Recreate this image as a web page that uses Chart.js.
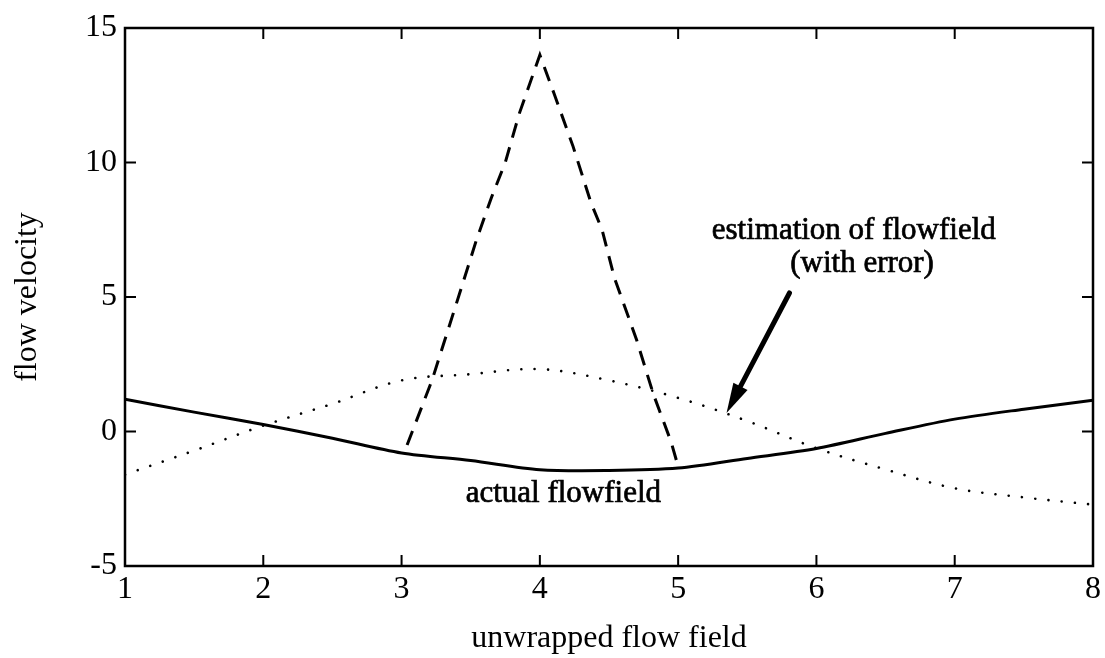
<!DOCTYPE html>
<html>
<head>
<meta charset="utf-8">
<script src="https://cdn.jsdelivr.net/npm/chart.js@4/dist/chart.umd.min.js"></script>
<style>
  html, body { margin: 0; padding: 0; background: #fff; }
  #wrap { width: 1105px; height: 658px; position: relative; }
</style>
</head>
<body>
<div id="wrap"><canvas id="chart"></canvas></div>
<script>
// Axis ticks
const xTicks = [1, 2, 3, 4, 5, 6, 7, 8];
const yTicks = [-5, 0, 5, 10, 15];

// Actual flowfield (solid)
const actualX = [1, 1.5, 2, 2.5, 3, 3.5, 4, 4.5, 5, 5.5, 6, 6.5, 7, 7.5, 8];
const actualY = [1.2, 0.72, 0.26, -0.25, -0.8, -1.08, -1.42, -1.45, -1.36, -1.0, -0.63, -0.07, 0.46, 0.83, 1.16];

// Estimated flowfield (dotted)
const estimateX = [1, 1.5, 2, 2.5, 3, 3.5, 4, 4.5, 5, 5.5, 6, 6.5, 7, 7.5, 8];
const estimateY = [-1.6, -0.71, 0.22, 1.03, 1.9, 2.13, 2.32, 1.9, 1.25, 0.39, -0.62, -1.41, -2.11, -2.45, -2.72];

// Estimate with unwrapping error (dashed)
const errorX = [3.04, 3.22, 3.43, 3.54, 3.65, 3.75, 3.85, 4.0, 4.1, 4.24, 4.37, 4.45, 4.54, 4.7, 4.82, 4.95, 5.0];
const errorY = [-0.5, 1.9, 5.3, 7.1, 8.7, 10.0, 11.8, 14.0, 12.6, 10.6, 8.5, 7.5, 5.7, 3.4, 1.4, -0.4, -1.3];

// Annotations (data coordinates)
const labelActual = { text: 'actual flowfield', x: 4.17, y: -2.62 };
const labelEstimate = [
  { text: 'estimation of flowfield', x: 6.27, y: 7.16 },
  { text: '(with error)', x: 6.33, y: 5.93 }
];
const arrowFrom = { x: 5.805, y: 5.15 };
const arrowTo = { x: 5.35, y: 0.69 };

const FONT = "'Liberation Serif', 'Times New Roman', serif";
const pts = (xs, ys) => xs.map((v, i) => ({ x: v, y: ys[i] }));

// Boxed frame with inward tick marks on all four sides
const framePlugin = {
  id: 'frame',
  afterDatasetsDraw(chart) {
    const { ctx, chartArea: a, scales: { x, y } } = chart;
    ctx.save();
    ctx.strokeStyle = '#000';
    ctx.lineWidth = 2.5;
    ctx.strokeRect(a.left, a.top, a.right - a.left, a.bottom - a.top);
    ctx.lineWidth = 2;
    const L = 11;
    ctx.beginPath();
    xTicks.forEach(v => {
      const px = x.getPixelForValue(v);
      ctx.moveTo(px, a.bottom); ctx.lineTo(px, a.bottom - L);
      ctx.moveTo(px, a.top); ctx.lineTo(px, a.top + L);
    });
    yTicks.forEach(v => {
      const py = y.getPixelForValue(v);
      ctx.moveTo(a.left, py); ctx.lineTo(a.left + L, py);
      ctx.moveTo(a.right, py); ctx.lineTo(a.right - L, py);
    });
    ctx.stroke();
    ctx.restore();
  }
};

// Text labels and the pointer arrow
const notePlugin = {
  id: 'notes',
  afterDatasetsDraw(chart) {
    const { ctx, scales: { x, y } } = chart;
    ctx.save();
    ctx.fillStyle = '#000';
    ctx.strokeStyle = '#000';
    ctx.lineWidth = 0.7;
    ctx.font = '31px ' + FONT;
    ctx.textAlign = 'center';
    ctx.textBaseline = 'alphabetic';
    [labelActual, ...labelEstimate].forEach(l => {
      const px = x.getPixelForValue(l.x), py = y.getPixelForValue(l.y);
      ctx.fillText(l.text, px, py);
      ctx.strokeText(l.text, px, py);
    });
    const x0 = x.getPixelForValue(arrowFrom.x), y0 = y.getPixelForValue(arrowFrom.y);
    const x1 = x.getPixelForValue(arrowTo.x), y1 = y.getPixelForValue(arrowTo.y);
    const ang = Math.atan2(y1 - y0, x1 - x0);
    const headLen = 30, headHalf = 8;
    const bx = x1 - headLen * Math.cos(ang), by = y1 - headLen * Math.sin(ang);
    ctx.lineWidth = 5;
    ctx.lineCap = 'round';
    ctx.beginPath(); ctx.moveTo(x0, y0); ctx.lineTo(bx, by); ctx.stroke();
    ctx.beginPath();
    ctx.moveTo(x1, y1);
    ctx.lineTo(bx + headHalf * Math.sin(ang), by - headHalf * Math.cos(ang));
    ctx.lineTo(bx - headHalf * Math.sin(ang), by + headHalf * Math.cos(ang));
    ctx.closePath();
    ctx.fill();
    ctx.restore();
  }
};

new Chart(document.getElementById('chart'), {
  type: 'line',
  data: {
    datasets: [
      {
        label: 'actual flowfield',
        data: pts(actualX, actualY),
        borderColor: '#000', borderWidth: 3, tension: 0.3,
        pointRadius: 0, fill: false
      },
      {
        label: 'estimation of flowfield',
        data: pts(estimateX, estimateY),
        borderColor: '#000', borderWidth: 2.6, tension: 0.35,
        borderDash: [0.01, 13.3], borderCapStyle: 'round',
        pointRadius: 0, fill: false
      },
      {
        label: 'estimation with error',
        data: pts(errorX, errorY),
        borderColor: '#000', borderWidth: 3, tension: 0,
        borderDash: [15, 10],
        pointRadius: 0, fill: false
      }
    ]
  },
  options: {
    responsive: true,
    maintainAspectRatio: false,
    animation: false,
    events: [],
    font: { family: FONT },
    layout: { padding: { top: 28, right: 11, left: 0, bottom: 0 } },
    plugins: { legend: { display: false }, tooltip: { enabled: false } },
    scales: {
      x: {
        type: 'linear', min: 1, max: 8,
        afterFit(s) { s.height = 92; },
        afterBuildTicks(s) { s.ticks = xTicks.map(v => ({ value: v })); },
        grid: { display: false, drawTicks: false },
        border: { display: false },
        ticks: { color: '#000', font: { family: FONT, size: 32 }, padding: 4, maxRotation: 0, autoSkip: false },
        title: { display: true, text: 'unwrapped flow field', color: '#000', font: { family: FONT, size: 32 }, padding: { top: 0, bottom: 0 } }
      },
      y: {
        type: 'linear', min: -5, max: 15,
        afterFit(s) { s.width = 125; },
        afterBuildTicks(s) { s.ticks = yTicks.map(v => ({ value: v })); },
        grid: { display: false, drawTicks: false },
        border: { display: false },
        ticks: { color: '#000', font: { family: FONT, size: 32 }, padding: 8, autoSkip: false },
        title: { display: true, text: 'flow velocity', color: '#000', font: { family: FONT, size: 32 }, padding: { top: 8, bottom: 0 } }
      }
    }
  },
  plugins: [framePlugin, notePlugin]
});
</script>
</body>
</html>
